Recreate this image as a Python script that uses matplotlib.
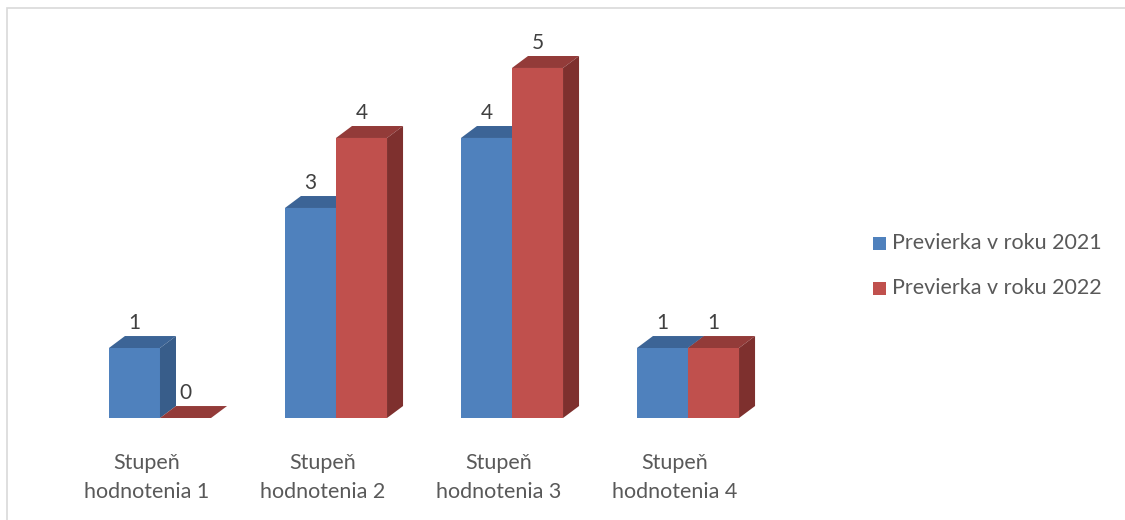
import matplotlib.pyplot as plt
from matplotlib.patches import Polygon, Rectangle

plt.rcParams['font.family'] = ['Lato', 'DejaVu Sans']

categories = ["Stupeň\nhodnotenia 1", "Stupeň\nhodnotenia 2",
              "Stupeň\nhodnotenia 3", "Stupeň\nhodnotenia 4"]
series_names = ["Previerka v roku 2021", "Previerka v roku 2022"]
values_2021 = [1, 3, 4, 1]
values_2022 = [0, 4, 5, 1]

# front / top / side shades for the fake 3D look
colors = [
    ("#4F81BD", "#3C6496", "#385D8A"),
    ("#C0504D", "#933B39", "#7E302E"),
]

width = 0.29
dx, dy = 0.091, 0.171

fig = plt.figure(figsize=(11.25, 5.2), dpi=100)
ax = fig.add_axes([0, 0, 1, 1])
ax.set_xlim(-0.909, 5.483)
ax.set_ylim(-1.457, 5.971)
ax.axis("off")

# light frame around the chart area
fig.patches.append(Rectangle((7 / 1125, -0.05), 1.2, 1 - 8 / 520 + 0.05,
                             transform=fig.transFigure, fill=False,
                             edgecolor="#D9D9D9", linewidth=1.2))


def draw_bar(x0, v, col):
    front, top, side = col
    x1 = x0 + width
    ax.bar(x0, v, width=width, align="edge", color=front, linewidth=0, zorder=2)
    ax.add_patch(Polygon([(x0, v), (x0 + dx, v + dy), (x1 + dx, v + dy), (x1, v)],
                         closed=True, facecolor=top, linewidth=0, zorder=2))
    ax.add_patch(Polygon([(x1, 0), (x1 + dx, dy), (x1 + dx, v + dy), (x1, v)],
                         closed=True, facecolor=side, linewidth=0, zorder=2))
    ax.text(x0 + width / 2, v + dy + 0.19, str(v), ha="center", va="center",
            fontsize=15, color="#404040", zorder=3)


for i in range(len(categories)):
    draw_bar(i - width, values_2021[i], colors[0])
    draw_bar(i, values_2022[i], colors[1])
    line1, line2 = categories[i].split("\n")
    ax.text(i - 0.075, -0.643, line1, ha="center", va="center",
            fontsize=15.5, color="#595959")
    ax.text(i - 0.075, -1.057, line2, ha="center", va="center",
            fontsize=15.5, color="#595959")

# legend
legend_y = [243, 288]
for name, col, ypx in zip(series_names, colors, legend_y):
    fig.patches.append(Rectangle((873 / 1125, 1 - (ypx + 7) / 520), 13 / 1125, 13 / 520,
                                 transform=fig.transFigure, facecolor=col[0],
                                 linewidth=0))
    fig.text(892 / 1125, 1 - ypx / 520, name, ha="left", va="center",
             fontsize=15.5, color="#595959")

fig.savefig("out.png", dpi=100)
